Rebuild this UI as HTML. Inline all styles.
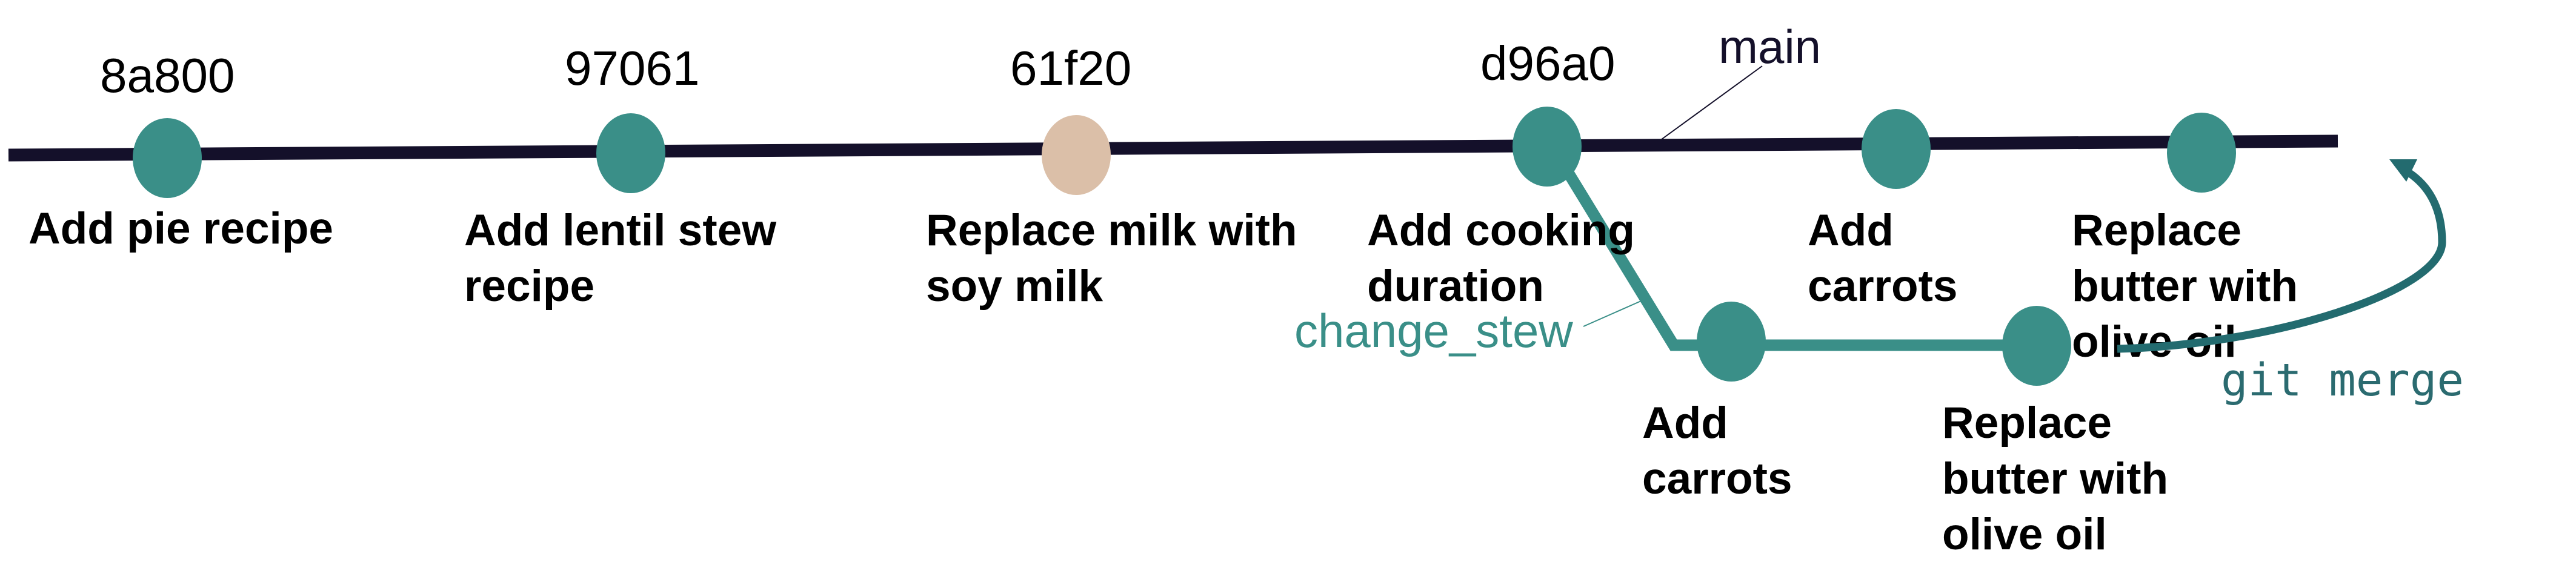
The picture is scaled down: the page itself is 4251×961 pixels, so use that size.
<!DOCTYPE html>
<html><head><meta charset="utf-8"><style>
html,body{margin:0;padding:0;background:#fff;width:4251px;height:961px;overflow:hidden}
svg{display:block}
.hash{font-family:"Liberation Sans",sans-serif;font-size:80px;fill:#000}
.msg{font-family:"Liberation Sans",sans-serif;font-size:73px;font-weight:bold;fill:#000}
</style></head><body>
<svg id="g" width="4251" height="961" viewBox="0 0 4251 961">
  <line x1="14" y1="256" x2="3858" y2="233" stroke="#14102a" stroke-width="21"/>
  <polyline points="2586,282 2762,570 3361,570" fill="none" stroke="#3a8f88" stroke-width="19"/>
  <line x1="2908" y1="109" x2="2742" y2="230" stroke="#14102a" stroke-width="2"/>
  <text x="2836" y="104" style="font-family:'Liberation Sans',sans-serif;font-size:78px;fill:#14102a">main</text>
  <line x1="2613" y1="539" x2="2708" y2="497" stroke="#3a8f88" stroke-width="2"/>
  <text x="2136" y="573" style="font-family:'Liberation Sans',sans-serif;font-size:78px;fill:#3a8f88">change_stew</text>
  <g id="commits"></g>
  <path d="M3494,576 C3750,570 4030,480 4030,400 C4030,340 4005,305 3975,285" fill="none" stroke="#236b6f" stroke-width="13"/>
  <polygon points="3943,263 3989,263 3971,300" fill="#236b6f"/>
  <text x="3665" y="653" style="font-family:'DejaVu Sans Mono','Liberation Mono',monospace;font-size:74px;fill:#2b6b70">git merge</text>
</svg>
<script>
const commitX=[276,1041,1776,2553,3129,3633,2857,3361];
const commitY=[261,253,256,242,246,252,564,571];
const commitHashes=["8a800","97061","61f20","d96a0","","","",""];
const hashX=[165,932,1667,2443];
const hashY=[152,140,140,132];
const commitMsgs=[["Add pie recipe"],["Add lentil stew","recipe"],["Replace milk with","soy milk"],["Add cooking","duration"],["Add","carrots"],["Replace","butter with","olive oil"],["Add","carrots"],["Replace","butter with","olive oil"]];
const msgX=[47,766,1528,2256,2983,3419,2710,3205];
const msgY=[402,405,405,405,405,405,723,723];
const commitColors=["#3a8f88","#3a8f88","#dbbfa8","#3a8f88","#3a8f88","#3a8f88","#3a8f88","#3a8f88"];
const NS="http://www.w3.org/2000/svg";
const g=document.getElementById('commits');
for(let i=0;i<commitX.length;i++){
  const e=document.createElementNS(NS,'ellipse');
  
  
  e.setAttribute('cx',commitX[i]);e.setAttribute('cy',commitY[i]);
  e.setAttribute('rx',57);e.setAttribute('ry',66);e.setAttribute('fill',commitColors[i]);
  g.appendChild(e);
  if(commitHashes[i]){
    const t=document.createElementNS(NS,'text');
    
    
    t.setAttribute('class','hash');t.setAttribute('x',hashX[i]);t.setAttribute('y',hashY[i]);
    t.textContent=commitHashes[i];g.appendChild(t);
  }
  commitMsgs[i].forEach((m,j)=>{
    const t=document.createElementNS(NS,'text');
    
    
    t.setAttribute('class','msg');t.setAttribute('x',msgX[i]);t.setAttribute('y',msgY[i]+j*92);
    t.textContent=m;g.appendChild(t);
  });
}
</script>
</body></html>
